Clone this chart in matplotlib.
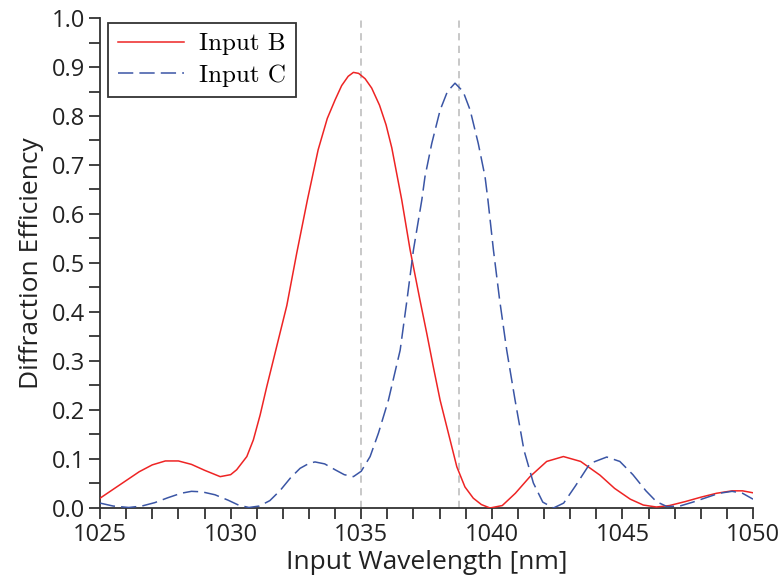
import numpy as np
import matplotlib
matplotlib.use("Agg")
import matplotlib.pyplot as plt

# --- data ---
wl_b = [1025, 1025.5, 1026, 1026.5, 1027, 1027.5, 1028, 1028.5, 1029, 1029.6,
        1030.0, 1030.23, 1030.62, 1030.87, 1031.13, 1031.38, 1031.64, 1031.89,
        1032.15, 1032.53, 1032.94, 1033.35, 1033.7, 1034.0, 1034.25, 1034.5,
        1034.7, 1034.9, 1035.15, 1035.4, 1035.7, 1035.95, 1036.17, 1036.55,
        1036.87, 1037.25, 1037.51, 1037.76, 1038.02, 1038.34, 1038.66, 1038.97,
        1039.29, 1039.6, 1039.93, 1040.4, 1040.9, 1041.46, 1042.1, 1042.74,
        1043.4, 1044.14, 1044.7, 1045.3, 1045.8, 1046.3, 1046.8, 1047.4, 1048,
        1048.6, 1049.2, 1049.6, 1050]
eff_b = [0.020, 0.038, 0.056, 0.074, 0.088, 0.096, 0.096, 0.089, 0.077, 0.064,
         0.068, 0.078, 0.105, 0.139, 0.190, 0.247, 0.303, 0.357,
         0.413, 0.520, 0.629, 0.731, 0.795, 0.833, 0.862, 0.881,
         0.889, 0.887, 0.876, 0.857, 0.822, 0.782, 0.735, 0.629,
         0.527, 0.424, 0.356, 0.288, 0.220, 0.152, 0.084, 0.043,
         0.020, 0.007, 0.000, 0.005, 0.030, 0.064, 0.095, 0.105,
         0.095, 0.067, 0.040, 0.018, 0.006, 0.002, 0.005, 0.013, 0.022,
         0.030, 0.035, 0.035, 0.031]

wl_c = [1025, 1025.5, 1026.1, 1026.6, 1027.1, 1027.6, 1028.1, 1028.5, 1028.9,
        1029.4, 1029.9, 1030.3, 1030.7, 1031.1, 1031.5, 1031.9, 1032.3, 1032.66,
        1033.0, 1033.23, 1033.6, 1034.0, 1034.35, 1034.7, 1035.0, 1035.34,
        1035.66, 1036.04, 1036.49, 1036.75, 1037.0, 1037.32, 1037.44, 1037.7,
        1038.02, 1038.3, 1038.59, 1038.9, 1039.17, 1039.48, 1039.74, 1039.85,
        1040.06, 1040.3, 1040.57, 1040.89, 1041.23, 1041.59, 1041.95, 1042.36,
        1042.75, 1043.2, 1043.76, 1044.4, 1044.9, 1045.4, 1045.9, 1046.3, 1046.7,
        1047.2, 1047.7, 1048.2, 1048.7, 1049.2, 1049.6, 1050]
eff_c = [0.010, 0.004, 0.001, 0.004, 0.011, 0.021, 0.030, 0.034, 0.033,
         0.027, 0.016, 0.006, 0.001, 0.004, 0.015, 0.036, 0.062, 0.081,
         0.091, 0.094, 0.090, 0.078, 0.068, 0.064, 0.075, 0.105,
         0.153, 0.220, 0.322, 0.424, 0.527, 0.629, 0.676, 0.744,
         0.812, 0.850, 0.867, 0.850, 0.812, 0.744, 0.676, 0.629,
         0.527, 0.424, 0.322, 0.220, 0.118, 0.051, 0.012, 0.000,
         0.010, 0.045, 0.091, 0.104, 0.095, 0.068, 0.035, 0.013, 0.003,
         0.004, 0.012, 0.021, 0.030, 0.034, 0.030, 0.018]

guides = [1035, 1038.75]

# --- plot ---
plt.rcParams["font.family"] = ["Open Sans", "DejaVu Sans"]

fig = plt.figure(figsize=(7.84, 5.77), dpi=100)
ax = fig.add_axes([0.1276, 0.1196, 0.8329, 0.8492])

for g in guides:
    ax.axvline(g, color="#c4c4c4", lw=1.3, ls=(0, (4, 3)), zorder=1)

ax.plot(wl_b, eff_b, color="#ee2424", lw=1.1, label="Input B", zorder=3)
ax.plot(wl_c, eff_c, color="#3a55a5", lw=1.1, ls=(0, (10, 4)),
        label="Input C", zorder=3)

ax.set_xlim(1025, 1050)
ax.set_ylim(0, 1.0)
ax.set_xticks(range(1025, 1051, 5))
ax.set_xticks(range(1025, 1051, 1), minor=True)
ax.set_yticks(np.arange(0, 1.01, 0.1))
ax.set_yticks(np.arange(0, 1.01, 0.05), minor=True)
ax.set_yticklabels([f"{v:.1f}" for v in np.arange(0, 1.01, 0.1)])

for s in ["top", "right"]:
    ax.spines[s].set_visible(False)
for s in ["left", "bottom"]:
    ax.spines[s].set_color("#333333")
    ax.spines[s].set_linewidth(1.3)

ax.tick_params(which="both", direction="out", length=8, width=1.3,
               color="#333333", labelsize=17, labelcolor="#222222", pad=3)

ax.set_xlabel("Input Wavelength [nm]", fontsize=19, color="#222222", labelpad=2)
ax.set_ylabel("Diffraction Efficiency", fontsize=19, color="#222222", labelpad=5)

leg = ax.legend(loc="upper left", bbox_to_anchor=(0.012, 0.99), borderaxespad=0,
                fancybox=False, edgecolor="#333333", framealpha=1,
                handlelength=2.65, borderpad=0.4, labelspacing=0.35,
                handletextpad=0.6, prop={"family": "cmr10", "size": 18})
leg.get_frame().set_linewidth(1.3)

fig.savefig("out.png", dpi=100)
